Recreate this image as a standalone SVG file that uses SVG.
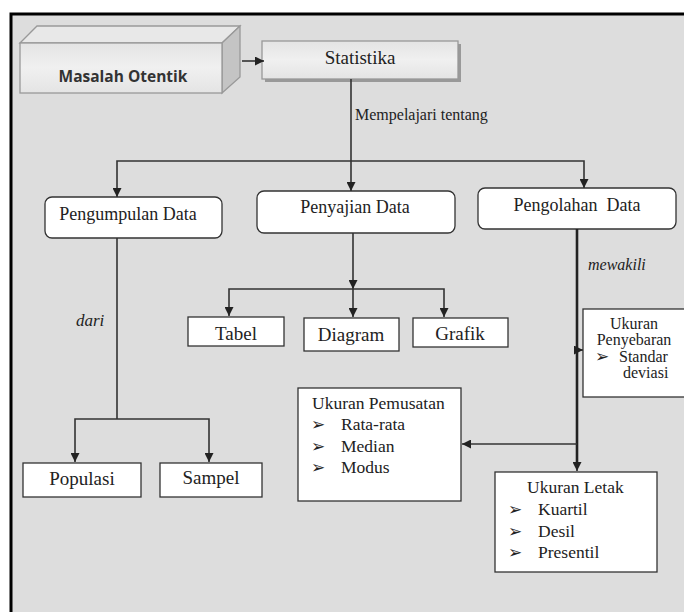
<svg xmlns="http://www.w3.org/2000/svg" width="684" height="612" viewBox="0 0 684 612">
<defs>
<style>
.t{font-family:"Liberation Serif","Times New Roman",serif;fill:#222;}
.it{font-family:"Liberation Serif","Times New Roman",serif;font-style:italic;fill:#222;}
.b{font-family:"DejaVu Sans",sans-serif;fill:#222;font-size:17px;}
.box{fill:#fff;stroke:#333;stroke-width:1.3;}
.ln{fill:none;stroke:#333;stroke-width:1.6;}
.thick{fill:none;stroke:#222;stroke-width:2.6;}
</style>
<marker id="ah" viewBox="0 0 10 10" refX="10" refY="5" markerWidth="9" markerHeight="9" markerUnits="userSpaceOnUse" orient="auto">
<path d="M0,0 L10,5 L0,10 z" fill="#222"/>
</marker>
<linearGradient id="g1" x1="0" y1="0" x2="0" y2="1">
<stop offset="0" stop-color="#e4e4e4"/><stop offset="0.5" stop-color="#f0f0f0"/><stop offset="1" stop-color="#e4e4e4"/>
</linearGradient>
</defs>
<rect x="0" y="0" width="684" height="612" fill="#fff"/>
<rect x="11" y="14" width="690" height="620" fill="#dddddd" stroke="#000" stroke-width="3"/>

<g id="masalah">
<polygon points="20,43 37,26 240,26 222,43" fill="#e8e8e8" stroke="#999" stroke-width="1.3"/>
<polygon points="222,43 240,26 240,77 222,93" fill="#c4c4c4" stroke="#999" stroke-width="1.3"/>
<rect x="20" y="43" width="202" height="50" fill="url(#g1)" stroke="#999" stroke-width="1.3"/>
<text x="123" y="82" text-anchor="middle" font-family="'Open Sans','Liberation Sans',sans-serif" font-weight="bold" font-size="15.5" fill="#333">Masalah Otentik</text>
</g>

<g id="statistika">
<rect x="265" y="44" width="196" height="38" fill="#999"/>
<rect x="262" y="41" width="196" height="38" fill="url(#g1)" stroke="#999" stroke-width="1.3"/>
<text class="t" x="360" y="64" text-anchor="middle" font-size="19">Statistika</text>
</g>

<g id="pengumpulan">
<rect class="box" x="45" y="197" width="177" height="41" rx="7"/>
<text class="t" x="128" y="220" text-anchor="middle" font-size="18">Pengumpulan Data</text>
</g>
<g id="penyajian">
<rect class="box" x="257" y="191" width="198" height="42" rx="7"/>
<text class="t" x="355" y="213" text-anchor="middle" font-size="18">Penyajian Data</text>
</g>
<g id="pengolahan">
<rect class="box" x="478" y="188" width="198" height="41" rx="7"/>
<text class="t" x="577" y="211" text-anchor="middle" font-size="18">Pengolahan&#160; Data</text>
</g>

<g id="tabel">
<rect class="box" x="188" y="317" width="96" height="29"/>
<text class="t" x="236" y="340" text-anchor="middle" font-size="19">Tabel</text>
</g>
<g id="diagram">
<rect class="box" x="304" y="318" width="95" height="33"/>
<text class="t" x="351" y="341" text-anchor="middle" font-size="19">Diagram</text>
</g>
<g id="grafik">
<rect class="box" x="413" y="318" width="95" height="29"/>
<text class="t" x="460" y="340" text-anchor="middle" font-size="19">Grafik</text>
</g>

<g id="populasi">
<rect class="box" x="23" y="463" width="118" height="34"/>
<text class="t" x="82" y="485" text-anchor="middle" font-size="19">Populasi</text>
</g>
<g id="sampel">
<rect class="box" x="160" y="463" width="102" height="34"/>
<text class="t" x="211" y="484" text-anchor="middle" font-size="19">Sampel</text>
</g>

<g id="penyebaran">
<rect class="box" x="583" y="309" width="110" height="88"/>
<text class="t" x="634" y="329" text-anchor="middle" font-size="16">Ukuran</text>
<text class="t" x="634" y="345" text-anchor="middle" font-size="16">Penyebaran</text>
<text class="b" x="595" y="362" font-size="15">➢</text>
<text class="t" x="619" y="362" font-size="16">Standar</text>
<text class="t" x="623" y="378" font-size="16">deviasi</text>
</g>

<g id="pemusatan">
<rect class="box" x="298" y="388" width="163" height="113"/>
<text class="t" x="312" y="409" font-size="17.5">Ukuran Pemusatan</text>
<text class="b" x="311" y="430">➢</text>
<text class="t" x="341" y="430" font-size="17.5">Rata-rata</text>
<text class="b" x="311" y="452">➢</text>
<text class="t" x="341" y="452" font-size="17.5">Median</text>
<text class="b" x="311" y="473">➢</text>
<text class="t" x="341" y="473" font-size="17.5">Modus</text>
</g>

<g id="letak">
<rect class="box" x="495" y="472" width="162" height="100"/>
<text class="t" x="527" y="493" font-size="17.5">Ukuran Letak</text>
<text class="b" x="508" y="515">➢</text>
<text class="t" x="538" y="515" font-size="17.5">Kuartil</text>
<text class="b" x="508" y="537">➢</text>
<text class="t" x="538" y="537" font-size="17.5">Desil</text>
<text class="b" x="508" y="558">➢</text>
<text class="t" x="538" y="558" font-size="17.5">Presentil</text>
</g>

<g id="connectors">
<line class="ln" x1="242" y1="61" x2="264" y2="61" marker-end="url(#ah)"/>
<line class="ln" x1="351" y1="79" x2="351" y2="191" marker-end="url(#ah)"/>
<polyline class="ln" points="351,161 117,161 117,197" marker-end="url(#ah)"/>
<polyline class="ln" points="351,161 584,161 584,188" marker-end="url(#ah)"/>
<line class="ln" x1="117" y1="238" x2="117" y2="419"/>
<polyline class="ln" points="117,419 75,419 75,462" marker-end="url(#ah)"/>
<polyline class="ln" points="117,419 209,419 209,462" marker-end="url(#ah)"/>
<line class="ln" x1="353" y1="233" x2="353" y2="289" marker-end="url(#ah)"/>
<polyline class="ln" points="353,289 229,289 229,316" marker-end="url(#ah)"/>
<line class="ln" x1="353" y1="289" x2="353" y2="317" marker-end="url(#ah)"/>
<polyline class="ln" points="353,289 444,289 444,317" marker-end="url(#ah)"/>
<line class="thick" x1="577" y1="229" x2="577" y2="464"/>
<line class="ln" x1="577" y1="462" x2="577" y2="471" marker-end="url(#ah)"/>
<line class="ln" x1="576" y1="350" x2="583" y2="350" marker-end="url(#ah)"/>
<line class="ln" x1="577" y1="444" x2="462" y2="444" marker-end="url(#ah)"/>
<text class="t" x="355" y="120" font-size="16">Mempelajari tentang</text>
<text class="it" x="76" y="326" font-size="17">dari</text>
<text class="it" x="588" y="270" font-size="16">mewakili</text>
</g>
</svg>
